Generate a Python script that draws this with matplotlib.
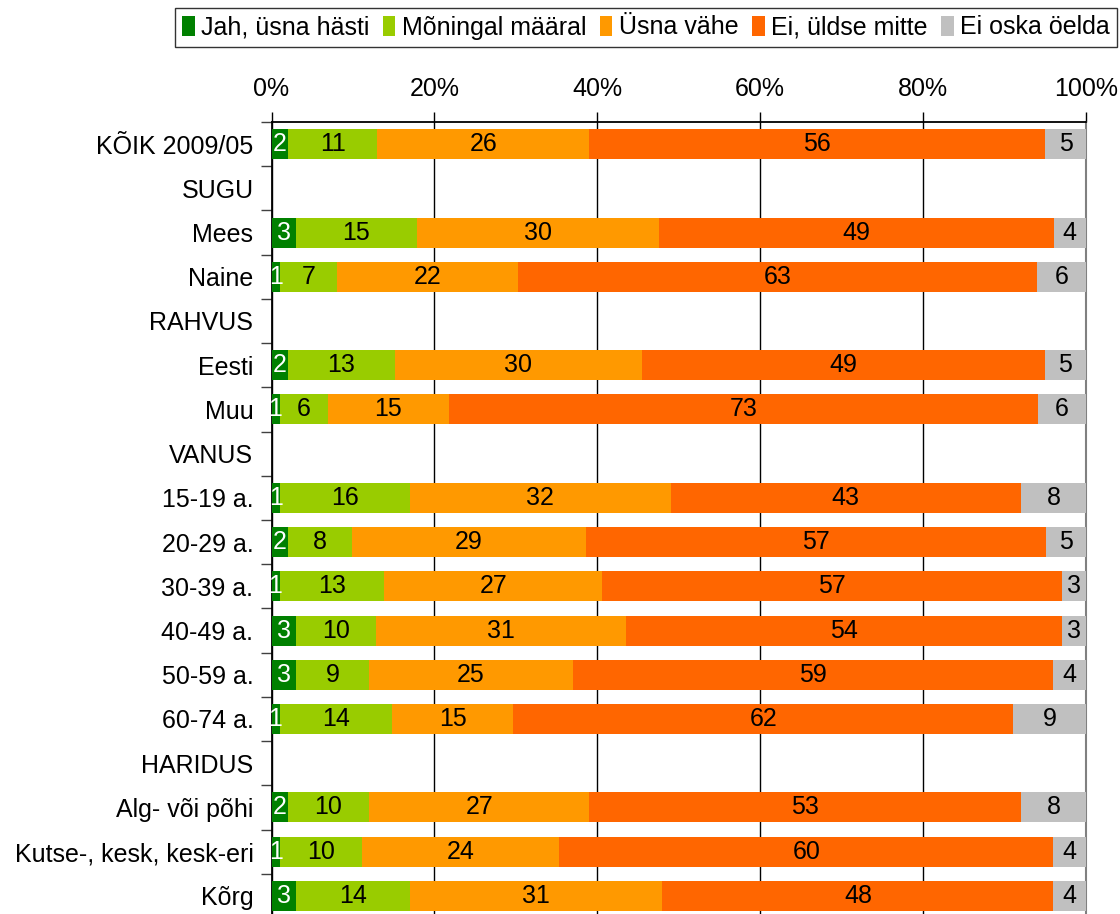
import matplotlib
matplotlib.use("Agg")
import matplotlib.pyplot as plt
import numpy as np

plt.rcParams['font.family'] = ['Liberation Sans', 'DejaVu Sans']

categories = ["KÕIK 2009/05", "SUGU", "Mees", "Naine", "RAHVUS", "Eesti", "Muu",
              "VANUS", "15-19 a.", "20-29 a.", "30-39 a.", "40-49 a.", "50-59 a.",
              "60-74 a.", "HARIDUS", "Alg- või põhi", "Kutse-, kesk, kesk-eri", "Kõrg"]

series_names = ["Jah, üsna hästi", "Mõningal määral", "Üsna vähe", "Ei, üldse mitte", "Ei oska öelda"]

# None = heading row without bar
jah      = [2, None, 3, 1, None, 2, 1, None, 1, 2, 1, 3, 3, 1, None, 2, 1, 3]
moningal = [11, None, 15, 7, None, 13, 6, None, 16, 8, 13, 10, 9, 14, None, 10, 10, 14]
usna     = [26, None, 30, 22, None, 30, 15, None, 32, 29, 27, 31, 25, 15, None, 27, 24, 31]
ei       = [56, None, 49, 63, None, 49, 73, None, 43, 57, 57, 54, 59, 62, None, 53, 60, 48]
eioska   = [5, None, 4, 6, None, 5, 6, None, 8, 5, 3, 3, 4, 9, None, 8, 4, 4]

colors = ["#008000", "#99CC00", "#FF9900", "#FF6600", "#C0C0C0"]
text_colors = ["white", "black", "black", "black", "black"]

series = [jah, moningal, usna, ei, eioska]

fig = plt.figure(figsize=(11.2, 9.14), dpi=100)
ax = fig.add_axes([271.5/1120, 1 - 918/914, (1086 - 271.5)/1120, (918 - 122)/914])

FS = 18
n = len(categories)
y = np.arange(n)

for i in range(n):
    if series[0][i] is None:
        continue
    vals = np.array([s[i] for s in series], dtype=float)
    pct = vals / vals.sum() * 100
    left = 0.0
    for k in range(5):
        ax.barh(y[i], pct[k], left=left, height=0.68, color=colors[k], edgecolor='none', zorder=3)
        ax.text(left + pct[k] / 2, y[i], f"{int(vals[k])}", ha='center', va='center',
                fontsize=FS, color=text_colors[k], zorder=4)
        left += pct[k]

# legend handles
for k in range(5):
    ax.barh([np.nan], [0], color=colors[k], label=series_names[k])

ax.set_xlim(0, 100)
ax.set_ylim(n - 0.5, -0.5)

ax.xaxis.tick_top()
ax.set_xticks([0, 20, 40, 60, 80, 100])
ax.set_xticklabels(["0%", "20%", "40%", "60%", "80%", "100%"], fontsize=FS)
ax.tick_params(axis='x', direction='out', length=7, width=1, color='black', pad=8)
ax.xaxis.grid(True, color='black', linewidth=1, zorder=1)

ax.set_yticks(y)
ax.set_yticklabels(categories, fontsize=FS)
ax.tick_params(axis='y', which='major', length=0, pad=13)
ax.set_yticks(np.arange(-0.5, n, 1.0), minor=True)
ax.tick_params(axis='y', which='minor', direction='out', length=8, width=1, color='#404040')

for side in ['top', 'left']:
    ax.spines[side].set_color('black')
    ax.spines[side].set_linewidth(1.3)
ax.spines['right'].set_color('#808080')
ax.spines['right'].set_linewidth(1.5)
ax.spines['bottom'].set_visible(False)

leg = fig.legend(loc='upper right', bbox_to_anchor=(1117/1120, 1 - 8/914), ncol=5,
                 fontsize=FS, frameon=True, fancybox=False, edgecolor='black',
                 handlelength=0.5, handleheight=0.9, handletextpad=0.25,
                 columnspacing=0.55, borderpad=0.3, borderaxespad=0)
leg.get_frame().set_linewidth(1.0)

fig.savefig("out.png", dpi=100)
